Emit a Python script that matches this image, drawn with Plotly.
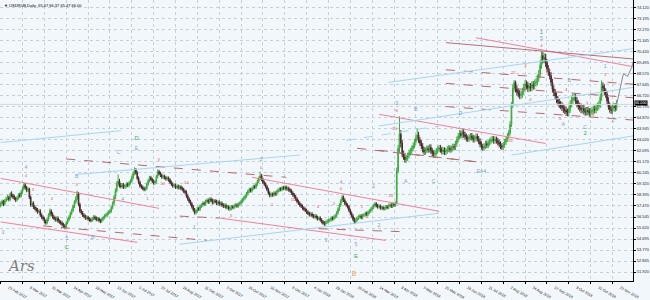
import plotly.graph_objects as go

symbol = "USDRUB,Daily"
first_open = 57.50
close = [
57.68,57.85,57.62,57.90,58.08,58.21,58.02,58.49,58.35,58.22,
58.10,57.98,58.15,58.40,58.31,58.66,58.95,59.25,59.02,58.80,
58.88,58.20,57.55,57.70,57.38,57.25,57.11,56.98,57.05,56.70,
56.52,56.40,56.18,56.05,56.35,56.70,57.05,56.80,56.55,56.42,
56.30,56.45,56.20,56.12,56.02,55.90,55.78,55.70,56.05,56.30,
56.55,56.85,57.10,57.45,57.80,58.10,58.55,57.60,57.05,56.90,
56.70,56.60,56.45,56.52,56.38,56.30,56.25,56.40,56.55,56.45,
56.32,56.40,56.25,56.18,56.35,56.50,56.62,56.70,56.85,56.95,
57.05,57.35,57.70,58.20,58.75,59.30,59.55,59.20,59.10,59.25,
59.05,59.15,59.30,59.20,59.40,59.55,59.85,60.20,60.50,60.25,
59.80,59.45,59.15,59.05,58.95,58.85,58.95,59.30,59.60,59.85,
59.70,59.55,59.40,59.50,59.95,60.35,60.20,60.05,59.90,59.95,
59.85,59.75,59.80,59.65,59.45,59.30,59.15,59.20,59.05,59.12,
59.00,59.08,58.95,58.85,58.70,58.62,58.30,58.05,57.85,57.65,
57.40,57.15,56.90,57.05,57.25,57.20,57.45,57.55,57.70,57.65,
57.85,57.95,57.80,58.05,57.95,57.75,57.90,57.85,57.70,57.80,
57.62,57.70,57.55,57.45,57.52,57.35,57.40,57.22,57.28,57.40,
57.35,57.50,57.55,57.48,57.62,57.70,57.85,58.00,58.15,58.30,
58.50,58.70,58.85,58.75,58.95,59.10,59.05,59.30,59.55,59.80,
60.00,59.70,59.45,59.30,59.10,58.85,58.55,58.35,58.45,58.40,
58.55,58.48,58.65,58.80,58.90,58.85,59.00,58.95,59.05,58.90,
58.95,58.80,58.72,58.55,58.40,58.25,58.05,57.85,57.70,57.55,
57.45,57.30,57.20,57.10,56.95,56.85,56.72,56.80,56.65,56.58,
56.62,56.50,56.40,56.45,56.30,56.15,56.05,55.95,56.10,56.20,
56.25,56.30,56.45,56.40,56.55,56.65,56.90,57.20,57.55,57.90,
58.20,57.95,57.70,57.55,57.40,57.10,56.85,56.62,56.35,56.10,
56.30,56.45,56.55,56.62,56.50,56.68,56.72,56.85,56.78,56.95,
57.05,57.20,57.35,57.50,57.65,57.50,57.40,57.45,57.30,57.35,
57.25,57.28,57.40,57.35,57.50,57.55,57.45,57.60,57.55,57.70,
60.40,62.30,63.50,62.75,61.80,61.60,61.35,61.50,61.70,61.95,
62.10,62.30,62.55,62.85,63.20,63.45,63.00,62.75,62.50,62.20,
62.00,62.15,62.30,62.20,62.40,62.10,61.90,61.78,61.95,62.10,
62.25,62.35,62.20,62.05,62.15,62.00,62.10,62.25,62.32,62.20,
62.30,62.45,62.40,62.70,63.05,63.35,63.55,63.40,63.70,63.45,
63.30,63.15,63.10,63.25,63.35,63.20,63.05,63.15,63.30,63.12,
62.90,62.65,62.45,62.35,62.50,62.70,62.58,62.75,62.90,63.05,
63.10,62.95,63.05,62.95,62.80,62.65,62.50,62.42,62.60,62.85,
63.10,63.35,63.60,64.30,65.90,67.40,67.85,67.30,67.05,66.90,
66.75,66.85,67.10,67.45,67.70,67.60,67.35,67.50,67.40,67.65,
67.55,67.80,67.90,68.20,68.55,69.30,70.10,69.80,69.95,69.50,
69.00,68.70,68.40,67.85,67.30,67.00,66.70,66.40,66.20,66.00,
65.90,65.75,65.60,65.50,65.35,65.30,65.60,66.05,66.35,66.55,
66.60,66.30,66.05,65.85,65.70,65.55,65.65,65.45,65.35,65.50,
65.40,65.28,65.40,65.52,65.60,65.55,65.75,65.85,66.00,66.60,
67.55,67.40,67.05,66.85,66.30,65.85,65.60,65.50,65.70,65.85,65.67,66.00]
high = [
57.85,58.02,57.98,58.05,58.25,58.40,58.33,58.62,58.70,58.50,
58.38,58.25,58.30,58.55,58.58,58.82,59.10,59.45,59.40,59.15,
59.05,59.00,58.35,57.85,57.85,57.55,57.40,57.30,57.20,57.20,
56.85,56.68,56.55,56.32,56.50,56.85,57.25,57.20,56.95,56.70,
56.58,56.60,56.60,56.35,56.28,56.18,56.05,55.95,56.20,56.45,
56.70,57.00,57.25,57.60,57.95,58.30,58.75,58.65,57.75,57.20,
57.05,56.85,56.75,56.68,56.65,56.52,56.45,56.55,56.70,56.68,
56.60,56.55,56.55,56.40,56.50,56.65,56.78,56.85,57.00,57.10,
57.20,57.50,57.85,58.40,58.95,59.55,60.12,59.75,59.40,59.40,
59.40,59.30,59.45,59.45,59.55,59.72,60.00,60.38,60.72,60.65,
60.40,59.95,59.60,59.30,59.20,59.10,59.10,59.45,59.75,60.00,
60.00,59.85,59.70,59.65,60.10,60.55,60.50,60.35,60.20,60.10,
60.10,60.00,59.95,59.95,59.80,59.60,59.45,59.35,59.35,59.28,
59.28,59.22,59.22,59.10,59.00,58.85,58.78,58.45,58.20,58.00,
57.80,57.55,57.30,57.20,57.40,57.40,57.60,57.70,57.85,57.85,
58.00,58.10,58.10,58.20,58.20,58.10,58.05,58.05,58.00,57.95,
57.95,57.85,57.85,57.70,57.68,57.68,57.55,57.55,57.45,57.55,
57.55,57.65,57.70,57.70,57.78,57.85,58.00,58.15,58.30,58.45,
58.65,58.85,59.00,59.00,59.10,59.25,59.25,59.45,59.70,59.95,
60.35,60.15,59.85,59.60,59.45,59.25,59.00,58.70,58.60,58.60,
58.70,58.70,58.80,58.95,59.05,59.05,59.15,59.15,59.20,59.20,
59.10,59.10,58.95,58.88,58.70,58.55,58.40,58.20,58.00,57.85,
57.70,57.60,57.45,57.35,57.25,57.10,57.00,56.95,56.95,56.80,
56.78,56.78,56.65,56.60,56.60,56.45,56.30,56.20,56.25,56.35,
56.40,56.45,56.60,56.60,56.70,56.80,57.05,57.35,57.70,58.05,
58.40,58.35,58.10,57.85,57.70,57.55,57.25,57.00,56.78,56.50,
56.45,56.60,56.70,56.78,56.78,56.82,56.88,57.00,57.00,57.10,
57.20,57.35,57.50,57.65,57.80,57.80,57.65,57.60,57.60,57.50,
57.50,57.42,57.55,57.55,57.65,57.70,57.70,57.75,57.75,57.85,
60.70,62.60,65.00,63.85,63.00,62.10,61.85,61.75,61.95,62.20,
62.35,62.55,62.80,63.10,63.45,64.00,63.70,63.25,63.00,62.75,
62.45,62.40,62.55,62.55,62.65,62.65,62.35,62.15,62.20,62.35,
62.50,62.60,62.60,62.45,62.40,62.40,62.35,62.50,62.58,62.55,
62.55,62.70,62.70,62.95,63.30,63.60,63.85,63.80,64.00,63.95,
63.70,63.55,63.40,63.50,63.60,63.60,63.45,63.40,63.55,63.55,
63.35,63.15,62.90,62.70,62.75,62.95,62.95,63.00,63.15,63.30,
63.35,63.35,63.30,63.30,63.20,63.05,62.90,62.75,62.85,63.10,
63.35,63.60,63.85,64.60,66.20,67.70,68.05,68.00,67.60,67.35,
67.20,67.15,67.40,67.75,68.05,68.00,67.90,67.80,67.80,67.95,
67.95,68.10,68.20,68.50,68.90,69.70,70.46,70.40,70.30,70.25,
69.80,69.30,69.00,68.70,68.15,67.60,67.30,67.00,66.70,66.50,
66.30,66.20,66.05,65.90,65.80,65.65,65.90,66.35,66.65,66.90,
66.90,66.90,66.60,66.35,66.15,66.00,65.95,65.95,65.75,65.80,
65.80,65.70,65.70,65.80,65.90,65.90,66.05,66.15,66.30,66.90,
68.02,67.85,67.70,67.35,67.15,66.60,66.15,65.90,65.95,66.15,66.10,66.37]
low = [
57.35,57.52,57.45,57.50,57.78,57.95,57.85,57.90,58.18,58.05,
57.95,57.80,57.85,58.02,58.15,58.20,58.50,58.80,58.85,58.62,
58.65,58.05,57.40,57.40,57.22,57.10,56.95,56.82,56.85,56.55,
56.38,56.25,56.02,55.90,55.92,56.20,56.55,56.62,56.40,56.28,
56.15,56.15,56.05,55.98,55.88,55.75,55.62,55.52,55.58,55.92,
56.18,56.40,56.70,56.95,57.30,57.65,57.95,57.45,56.90,56.75,
56.55,56.45,56.30,56.32,56.22,56.15,56.10,56.12,56.25,56.30,
56.18,56.18,56.10,56.02,56.05,56.20,56.35,56.48,56.55,56.70,
56.80,56.90,57.20,57.55,58.05,58.60,59.10,59.02,58.95,58.95,
58.90,58.90,59.00,59.05,59.05,59.25,59.40,59.70,60.05,60.10,
59.65,59.30,59.00,58.90,58.80,58.70,58.72,58.80,59.15,59.45,
59.55,59.40,59.25,59.25,59.35,59.80,60.05,59.90,59.75,59.75,
59.70,59.60,59.60,59.50,59.30,59.15,59.00,59.00,58.90,58.90,
58.85,58.85,58.80,58.70,58.55,58.45,58.15,57.90,57.70,57.50,
57.25,57.00,56.75,56.75,56.90,57.05,57.05,57.30,57.40,57.50,
57.50,57.70,57.65,57.65,57.80,57.60,57.60,57.70,57.55,57.55,
57.48,57.48,57.40,57.30,57.30,57.20,57.20,57.08,57.05,57.12,
57.20,57.20,57.35,57.32,57.32,57.48,57.55,57.70,57.85,58.00,
58.15,58.35,58.55,58.60,58.60,58.80,58.90,58.90,59.15,59.40,
59.65,59.55,59.30,59.15,58.95,58.70,58.40,58.20,58.20,58.25,
58.25,58.32,58.32,58.50,58.65,58.70,58.70,58.80,58.80,58.75,
58.75,58.65,58.58,58.40,58.25,58.10,57.90,57.70,57.55,57.40,
57.30,57.15,57.05,56.95,56.80,56.70,56.58,56.58,56.50,56.42,
56.42,56.35,56.25,56.25,56.15,56.00,55.90,55.80,55.82,55.95,
56.05,56.10,56.15,56.25,56.25,56.40,56.50,56.75,57.05,57.40,
57.75,57.80,57.55,57.40,57.25,56.95,56.70,56.48,56.20,55.95,
55.95,56.15,56.30,56.40,56.35,56.35,56.52,56.58,56.62,56.62,
56.80,56.90,57.05,57.20,57.35,57.35,57.25,57.25,57.15,57.15,
57.10,57.10,57.12,57.20,57.20,57.35,57.30,57.30,57.40,57.40,
57.60,60.20,62.00,62.40,61.55,61.35,61.10,61.10,61.25,61.45,
61.70,61.85,62.05,62.30,62.60,62.95,62.75,62.50,62.25,61.95,
61.75,61.75,61.90,61.95,61.95,61.85,61.65,61.50,61.55,61.70,
61.85,62.00,61.95,61.80,61.80,61.75,61.75,61.85,62.00,61.95,
61.95,62.05,62.15,62.15,62.45,62.80,63.10,63.15,63.15,63.20,
63.05,62.90,62.85,62.85,63.00,62.95,62.80,62.80,62.90,62.87,
62.65,62.40,62.20,62.10,62.10,62.25,62.33,62.33,62.50,62.65,
62.80,62.70,62.70,62.70,62.55,62.40,62.25,62.17,62.17,62.35,
62.60,62.85,63.10,63.40,64.10,65.70,67.10,67.00,66.75,66.60,
66.45,66.45,66.55,66.80,67.15,67.30,67.05,67.05,67.10,67.10,
67.25,67.25,67.50,67.60,67.90,68.25,69.00,69.45,69.45,69.15,
68.70,68.40,68.10,67.55,67.00,66.70,66.40,66.10,65.90,65.70,
65.60,65.45,65.30,65.20,65.05,65.00,65.00,65.30,65.75,66.05,
66.25,66.00,65.75,65.55,65.40,65.25,65.25,65.15,65.05,65.05,
65.10,64.98,64.98,65.10,65.22,65.25,65.25,65.45,65.55,65.70,
66.30,67.10,66.75,66.55,66.00,65.55,65.30,65.20,65.20,65.40,65.40,65.47]

# projected continuation (drawn path after the last bar)
proj_x = [451, 456, 459, 462, 467, 470]
proj_p = [66.00, 68.60, 68.35, 69.10, 71.20, 71.60]

date_labels = ["23 Feb 2017","9 Mar 2017","31 Mar 2017","24 Apr 2017","19 May 2017","13 Jun 2017",
"5 Jul 2017","27 Jul 2017","18 Aug 2017","11 Sep 2017","3 Oct 2017","26 Oct 2017","16 Nov 2017",
"8 Dec 2017","4 Jan 2018","29 Jan 2018","20 Feb 2018","14 Mar 2018","9 Apr 2018","3 May 2018",
"25 May 2018","19 Jun 2018","11 Jul 2018","2 Aug 2018","24 Aug 2018","17 Sep 2018","9 Oct 2018",
"31 Oct 2018","23 Nov 2018"]
bars_per_label = 16

price_ticks = [74.120,73.195,72.270,71.345,70.420,69.495,68.570,67.645,66.720,65.795,64.870,
63.945,63.020,62.095,61.170,60.245,59.320,58.395,57.470,56.545,55.620,54.695,53.770,52.845,
51.920,50.995]

# trendlines: x0, p0, x1, p1, kind
seg_x0 = [0, 0, 0, 31, 48, 56, 131, 131, 184, 160, 233, 253, 261, 348, 326, 326, 326, 284, 277, 326, 277, 374, 277]
seg_p0 = [62.80, 59.79, 56.13, 55.80, 61.42, 60.12, 56.62, 54.26, 59.88, 56.46, 55.56, 62.97, 62.32, 71.60, 71.19, 68.91, 67.77, 67.85, 64.19, 65.82, 65.17, 61.75, 62.15]
seg_x1 = [88, 116, 100, 151, 209, 219, 160, 321, 321, 282, 292, 321, 348, 464, 464, 464, 464, 464, 464, 464, 399, 464, 348]
seg_p1 = [63.80, 57.27, 54.42, 54.58, 59.88, 61.75, 56.46, 56.86, 57.03, 54.58, 55.32, 64.19, 61.18, 69.15, 69.81, 67.69, 66.55, 70.70, 67.45, 64.68, 62.72, 63.37, 61.18]
seg_kind = ["blue", "pink", "pink", "dash", "dash", "blue", "dash", "blue", "pink", "pink", "dash", "bluedash", "dash", "pink", "maroon", "dash", "dash", "blue", "blue", "dash", "pink", "blue", "dash"]

# wave labels
lab_x = [48.4, 48.4, 99.5, 99.5, 86.4, 18.5, 55.7, 1.7, 67.4, 89.3, 141.8, 190.7, 190.7, 238.2, 249.1, 249.1,
         260.1, 260.1, 273.2, 276.9, 290, 290, 288.5, 296.6, 303.9, 317, 336.7, 352, 375.4, 373.2, 395.9, 395.9,
         395.9, 411.9, 416.3, 428, 428, 442.6, 442.6, 448.4, 258.6,
         18.5, 23.6, 37.5, 55.7, 107.5, 115.6, 118.5, 136, 168.8, 198.8, 214.1, 232.3, 244, 264.5, 268.1, 285.6,
         384.2, 387.8, 401, 409.7, 414.1, 425, 429.4, 433.8]
lab_p = [54.01, 54.75, 63.13, 62.32, 61.91, 60.69, 59.96, 55.24, 54.83, 58.00, 55.64, 61.34, 60.69, 54.58, 59.39, 58.90,
         54.26, 53.20, 59.06, 55.81, 66.06, 65.41, 63.94, 59.47, 65.57, 59.55, 65.25, 60.36, 68.67, 62.97, 72.00, 71.52,
         70.95, 64.27, 68.02, 64.03, 63.54, 69.15, 68.50, 64.60, 51.74,
         59.96, 58.82, 58.08, 59.22, 58.08, 61.34, 59.31, 59.39, 56.62, 57.52, 58.00, 57.35, 57.68, 57.43, 56.54, 58.33,
         69.24, 66.39, 68.83, 64.76, 67.20, 65.98, 66.14, 65.08]
lab_text = ["C", "5", "D", "E", "C", "4", "B", "3", "B", "4", "1", "2", "0", "3", "4", "0",
            "5", "E", "1", "2", "3", "8", "10", "A", "B", "C", "D", "E=4", "22", "20", "1", "5",
            "4", "A", "B", "C", "2", "1", "3", "2", "B",
            "4", "3", "4", "3", "1", "3", "10", "10", "5", "1", "10", "4", "2", "1", "4", "10",
            "3", "4", "3", "5", "4", "2", "1", "3"]
lab_kind = ["green", "blue", "green", "blue", "blue", "blue", "blue", "blue", "blue", "blue", "blue", "blue", "red", "blue", "blue", "red",
            "blue", "green", "blue", "blue", "blue", "red", "red", "blue", "blue", "blue", "blue", "blue", "red", "red", "green", "blue",
            "red", "blue", "blue", "blue", "green", "blue", "red", "blue", "orange",
            "red", "red", "red", "red", "red", "red", "red", "red", "red", "red", "red", "red", "red", "red", "red", "red",
            "red", "red", "red", "red", "red", "red", "red", "red"]

# ---------------------------------------------------------------
n = len(close)
xs = list(range(n))
opens = [first_open] + close[:-1]
hi = [max(h, o, c) for h, o, c in zip(high, opens, close)]
lo = [min(l, o, c) for l, o, c in zip(low, opens, close)]

FONT = "Liberation Sans"
fig = go.Figure()

# bid line
fig.add_trace(go.Scatter(x=[-1, 480], y=[close[-1], close[-1]], mode="lines",
                         line=dict(color="#d3d7db", width=1), hoverinfo="skip", showlegend=False))

styles = {
    "pink": dict(color="#ec8496", width=1, dash="solid"),
    "maroon": dict(color="#b8707a", width=1, dash="solid"),
    "dash": dict(color="#b46a6a", width=1, dash="dash"),
    "blue": dict(color="#a9d5ee", width=1, dash="solid"),
    "bluedash": dict(color="#a9d5ee", width=1, dash="dash"),
}
for kind, st in styles.items():
    sx, sy = [], []
    for a, b, c, d, k in zip(seg_x0, seg_p0, seg_x1, seg_p1, seg_kind):
        if k == kind:
            sx += [a, c, None]
            sy += [b, d, None]
    if sx:
        fig.add_trace(go.Scatter(x=sx, y=sy, mode="lines", line=st, hoverinfo="skip", showlegend=False))

fig.add_trace(go.Candlestick(
    x=xs, open=opens, high=hi, low=lo, close=close,
    increasing=dict(line=dict(color="#3da83d", width=1), fillcolor="#44c944"),
    decreasing=dict(line=dict(color="#4a2a2a", width=1), fillcolor="#3a0d0d"),
    whiskerwidth=0, showlegend=False, hoverinfo="skip"))

fig.add_trace(go.Scatter(x=proj_x, y=proj_p, mode="lines",
                         line=dict(color="#8a8a8a", width=1), hoverinfo="skip", showlegend=False))

colors = {"red": "#e8504a", "blue": "#7d9fc2", "green": "#4aa84a", "orange": "#f2a21c"}
sizes = {"red": 4.2, "blue": 5.2, "green": 6, "orange": 6.5}
for kind in colors:
    idx = [i for i, k in enumerate(lab_kind) if k == kind]
    fig.add_trace(go.Scatter(
        x=[lab_x[i] for i in idx], y=[lab_p[i] for i in idx], text=[lab_text[i] for i in idx],
        mode="text", textfont=dict(family=FONT, size=sizes[kind], color=colors[kind]),
        hoverinfo="skip", showlegend=False, cliponaxis=False))

grid = "#c6d0dc"
fig.update_layout(
    width=650, height=300,
    margin=dict(l=0, r=15, t=0, b=10),
    paper_bgcolor="#f2f7fc", plot_bgcolor="#f2f7fc",
    font=dict(family=FONT, color="#222222"),
    xaxis=dict(range=[-0.5, 463], rangeslider=dict(visible=False),
               tickvals=[bars_per_label * k for k in range(len(date_labels))], ticktext=date_labels,
               tickfont=dict(size=3.7, color="#222222"), ticks="outside", ticklen=2, tickcolor="#000000",
               ticklabelshift=8, showgrid=True, gridcolor=grid, griddash="dot", gridwidth=1,
               showline=True, linecolor="#000000", linewidth=1, zeroline=False, fixedrange=True),
    yaxis=dict(side="right", range=[51.17, 74.77],
               tickvals=price_ticks, ticktext=["%.3f" % v for v in price_ticks],
               tickfont=dict(size=4, color="#222222"), ticks="outside", ticklen=2, tickcolor="#000000",
               showgrid=True, gridcolor=grid, griddash="dot", gridwidth=1,
               showline=True, linecolor="#000000", linewidth=1, zeroline=False, fixedrange=True),
)

fig.add_annotation(xref="paper", yref="paper", x=0.003, y=0.995, xanchor="left", yanchor="top",
                   text="\u25bc %s  %.2f %.2f %.2f %.2f" % (symbol, opens[-1], hi[-1], lo[-1], close[-1]),
                   showarrow=False, font=dict(family=FONT, size=4, color="#000000"))
fig.add_annotation(xref="paper", yref="y", x=1, y=close[-1], xanchor="left", yanchor="middle", xshift=1,
                   yshift=1.5, text="%.3f" % close[-1], showarrow=False, bgcolor="#000000", borderpad=0,
                   font=dict(family=FONT, size=3.8, color="#ffffff"))
fig.add_annotation(x=15, y=52.4, text="Ars", showarrow=False,
                   font=dict(family="DejaVu Serif", size=15, color="#808080", style="italic"))

fig.write_html("out.html")
